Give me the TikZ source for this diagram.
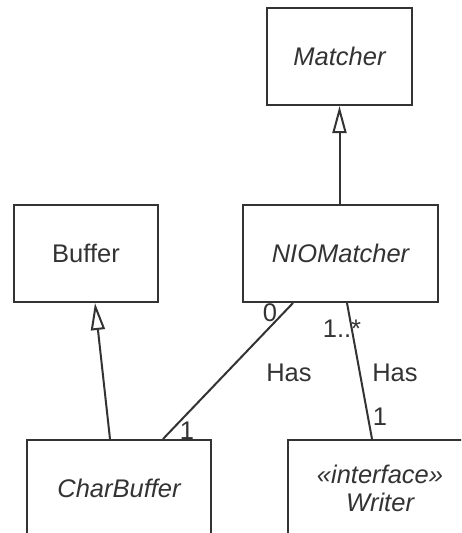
\documentclass[tikz,border=0pt]{standalone}
\usepackage{fontspec}
\setmainfont{Liberation Sans}
\usetikzlibrary{arrows.meta}
\definecolor{ink}{HTML}{333333}
\tikzset{
  cls/.style={draw=ink, line width=2pt, fill=white, text=ink, inner sep=0pt,
    minimum height=97pt, align=center, font=\fontsize{25.5}{29}\selectfont},
  lnk/.style={draw=ink, line width=2pt},
  gen/.style={lnk, -{Triangle[open, length=27pt, width=14pt, line width=2pt]}},
  lbl/.style={text=ink, inner sep=0pt, font=\fontsize{25.5}{29}\selectfont}
}
\begin{document}
\begin{tikzpicture}[x=1pt, y=-1pt]
  \useasboundingbox (0,0) rectangle (461,533);
  \clip (0,0) rectangle (461,533);

  % classes
  \node[cls, minimum width=145pt] (matcher) at (339.5,56.5) {\itshape Matcher};
  \node[cls, minimum width=195pt] (nio) at (340.5,253.5) {\itshape NIOMatcher};
  \node[cls, minimum width=144pt] (buf) at (86,253.5) {Buffer};
  \node[cls, minimum width=184pt, minimum height=96pt] (cb) at (119,488) {\itshape CharBuffer};
  \node[cls, minimum width=184pt, minimum height=96pt] (wr) at (380,488)
    {\itshape «interface»\\[-1pt]\itshape Writer};

  % generalizations
  \draw[gen] (matcher.south |- nio.north) -- (matcher.south);
  \draw[gen] ([xshift=-9pt]cb.north) -- ([xshift=9pt]buf.south);

  % associations
  \draw[lnk] ([xshift=44pt]cb.north) -- ([xshift=-47.5pt]nio.south);
  \draw[lnk] ([xshift=6.5pt]nio.south) -- ([xshift=-8pt]wr.north);

  % multiplicities and roles
  \node[lbl] (m0) at (270,313) {0};
  \node[lbl] (m1a) at (187,431) {1};
  \node[lbl] (mn) at (342,329) {1..*};
  \node[lbl] (m1b) at (380,417) {1};
  \node[lbl] (has1) at (289,373) {Has};
  \node[lbl] (has2) at (395,373) {Has};
\end{tikzpicture}
\end{document}
